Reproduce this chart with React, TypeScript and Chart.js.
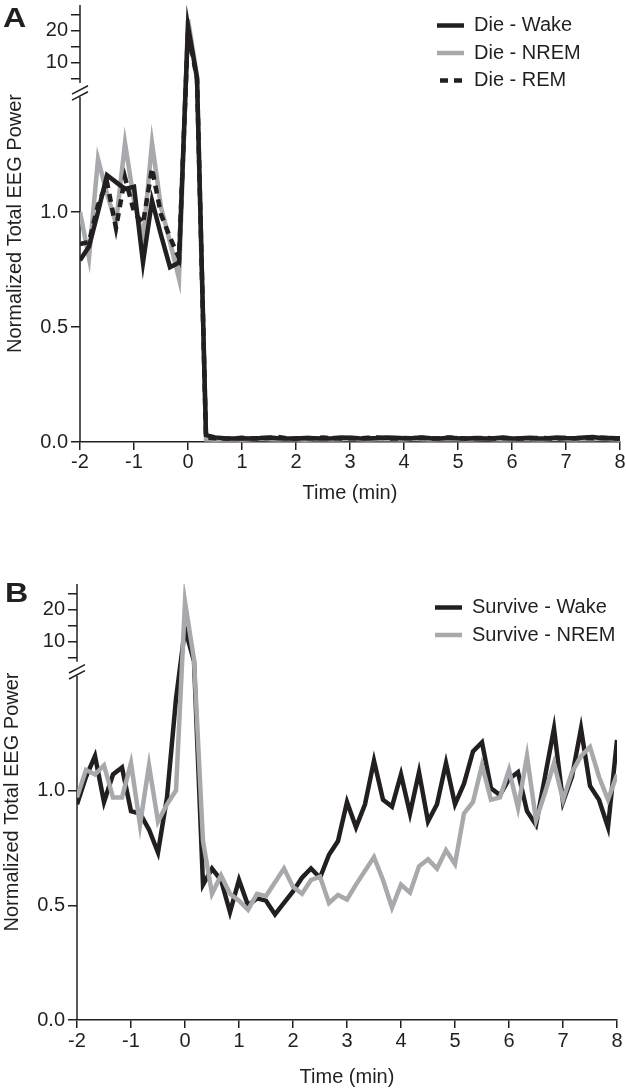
import React, { useEffect, useRef } from 'react';
import { Chart, LinearScale, registerables } from 'chart.js';

// ---------- data ----------
const TIME_SEC = [
  -120, -110, -100, -90, -80, -70, -60, -50, -40, -30, -20, -10,
  0, 10, 20, 30, 40, 50, 60, 70, 80, 90, 100, 110, 120, 130, 140, 150, 160, 170,
  180, 190, 200, 210, 220, 230, 240, 250, 260, 270, 280, 290, 300, 310, 320, 330,
  340, 350, 360, 370, 380, 390, 400, 410, 420, 430, 440, 450, 460, 470, 480,
];

const X_TICK_SEC = [-120, -60, 0, 60, 120, 180, 240, 300, 360, 420, 480];
const X_TICK_LABELS = ['-2', '-1', '0', '1', '2', '3', '4', '5', '6', '7', '8'];

const Y_TICK_VALUES = [0, 0.5, 1, 5, 10, 15, 20, 25];
const Y_TICK_LABELS = ['0.0', '0.5', '1.0', '', '10', '', '20', ''];

const DIE_WAKE = [
  0.79, 0.85, 1.0, 1.16, 1.13, 1.1, 1.11, 0.78, 1.05, 0.9, 0.76, 0.78, 21.5, 5.3,
  0.03, 0.02, 0.016, 0.015, 0.016, 0.015, 0.017, 0.02, 0.016, 0.015,
  0.015, 0.017, 0.016, 0.015, 0.016, 0.02, 0.018, 0.016, 0.015, 0.017,
  0.02, 0.018, 0.016, 0.017, 0.02, 0.016, 0.015, 0.018, 0.016, 0.015,
  0.017, 0.015, 0.016, 0.02, 0.015, 0.016, 0.018, 0.015, 0.016, 0.02,
  0.017, 0.016, 0.02, 0.022, 0.016, 0.017, 0.015,
];
const DIE_NREM = [
  1.0, 0.8, 1.23, 1.08, 0.95, 1.3, 1.05, 0.88, 1.3, 1.02, 0.87, 0.71, 23.5, 6.0,
  0.012, 0.01, 0.011, 0.012, 0.01, 0.012, 0.014, 0.012, 0.011, 0.013,
  0.012, 0.01, 0.012, 0.013, 0.011, 0.012, 0.014, 0.012, 0.011, 0.012,
  0.013, 0.012, 0.011, 0.014, 0.012, 0.011, 0.012, 0.013, 0.012, 0.011,
  0.012, 0.014, 0.012, 0.011, 0.012, 0.013, 0.012, 0.011, 0.012, 0.014,
  0.012, 0.011, 0.013, 0.012, 0.014, 0.012, 0.011,
];
const DIE_REM = [
  0.86, 0.87, 1.03, 1.13, 0.93, 1.15, 1.0, 0.95, 1.19, 0.99, 0.89, 0.8, 20.0, 5.0,
  0.02, 0.016, 0.015, 0.016, 0.018, 0.016, 0.015, 0.017, 0.022, 0.016,
  0.015, 0.018, 0.016, 0.02, 0.016, 0.015, 0.017, 0.016, 0.018, 0.02,
  0.016, 0.015, 0.017, 0.016, 0.018, 0.015, 0.016, 0.02, 0.016, 0.015,
  0.016, 0.018, 0.015, 0.017, 0.016, 0.015, 0.016, 0.018, 0.016, 0.015,
  0.017, 0.016, 0.018, 0.016, 0.02, 0.016, 0.015,
];

const SURVIVE_WAKE = [
  0.94, 1.06, 1.15, 0.95, 1.07, 1.1, 0.91, 0.9, 0.83, 0.73,
  0.97, 1.4, 14.0, 4.0, 0.59, 0.66, 0.61, 0.47, 0.61, 0.5,
  0.53, 0.52, 0.46, 0.51, 0.56, 0.62, 0.66, 0.62, 0.72, 0.78,
  0.95, 0.84, 0.94, 1.13, 0.96, 0.93, 1.07, 0.9, 1.08, 0.865,
  0.94, 1.12, 0.94, 1.03, 1.17, 1.21, 1.01, 0.98, 1.05, 1.08,
  0.91, 0.85, 1.06, 1.27, 0.95, 1.06, 1.27, 1.02, 0.96, 0.84,
  1.22,
];
const SURVIVE_NREM = [
  0.97, 1.09, 1.07, 1.11, 0.97, 0.97, 1.12, 0.85, 1.11, 0.865,
  0.94, 1.0, 22.5, 4.5, 0.78, 0.55, 0.63, 0.55, 0.52, 0.48,
  0.55, 0.54, 0.6, 0.66, 0.58, 0.55, 0.61, 0.625, 0.51, 0.545,
  0.525, 0.59, 0.65, 0.71, 0.61, 0.49, 0.59, 0.555, 0.67, 0.7,
  0.66, 0.74, 0.68, 0.9, 0.95, 1.11, 0.96, 0.97, 1.09, 0.925,
  1.15, 0.87, 0.99, 1.12, 0.96, 1.08, 1.15, 1.19, 1.06, 0.96,
  1.07,
];

// broken y axis: value breakpoints and their share of the axis height
const BREAK_VALUES = [0, 1.5, 3.75, 28];
const BREAK_FRACS = [0, 0.7895, 0.8215, 1];

// ---------- styles ----------
const INK = '#231f20';
const GREY = '#a7a9ac';
const FONT = "'Liberation Sans', Arial, Helvetica, sans-serif";

function valueToDecimal(v: number) {
  let i = 0;
  while (i < BREAK_VALUES.length - 2 && v > BREAK_VALUES[i + 1]) i++;
  const v0 = BREAK_VALUES[i], v1 = BREAK_VALUES[i + 1];
  const f0 = BREAK_FRACS[i], f1 = BREAK_FRACS[i + 1];
  return f0 + ((v - v0) / (v1 - v0)) * (f1 - f0);
}
function decimalToValue(d: number) {
  let i = 0;
  while (i < BREAK_FRACS.length - 2 && d > BREAK_FRACS[i + 1]) i++;
  const v0 = BREAK_VALUES[i], v1 = BREAK_VALUES[i + 1];
  const f0 = BREAK_FRACS[i], f1 = BREAK_FRACS[i + 1];
  return v0 + ((d - f0) / (f1 - f0)) * (v1 - v0);
}

class BrokenLinearScale extends (LinearScale as any) {
  static id = 'brokenLinear';
  getPixelForValue(value: number) {
    if (value === null || value === undefined || Number.isNaN(value)) return NaN;
    return (this as any).getPixelForDecimal(valueToDecimal(value));
  }
  getValueForPixel(pixel: number) {
    return decimalToValue((this as any).getDecimalForPixel(pixel));
  }
}

Chart.register(...registerables, BrokenLinearScale as any);

const brokenAxisPlugin = {
  id: 'brokenAxis',
  beforeDatasetsDraw(chart: any) {
    const ys = chart.scales.y;
    const { ctx, chartArea } = chart;
    const x = chartArea.left;
    const yLow = ys.getPixelForValue(BREAK_VALUES[1]);
    const yHigh = ys.getPixelForValue(BREAK_VALUES[2]);
    ctx.save();
    ctx.strokeStyle = INK;
    ctx.lineWidth = 1.5;
    ctx.lineCap = 'butt';
    ctx.beginPath();
    ctx.moveTo(x, chartArea.bottom);
    ctx.lineTo(x, yLow);
    ctx.moveTo(x, yHigh);
    ctx.lineTo(x, chartArea.top);
    for (const yc of [yLow - 7, yLow - 1]) {
      ctx.moveTo(x - 8, yc + 4.2);
      ctx.lineTo(x + 8, yc - 4.2);
    }
    ctx.stroke();
    ctx.restore();
  },
};

function legendMover(left: number, top: number) {
  return {
    id: 'legendMover',
    afterLayout(chart: any) {
      const lg = chart.legend;
      if (!lg) return;
      const w = lg.width + 30;
      const h = 200;
      lg.left = left;
      lg.top = top;
      lg.right = left + w;
      lg.bottom = top + h;
    },
  };
}

type SeriesDef = {
  label: string;
  values: number[];
  color: string;
  dash?: number[];
  order: number;
};

type PanelDef = {
  series: SeriesDef[];
  padding: { left: number; right: number; top: number; bottom: number };
  xScaleHeight: number;
  xLabelPad: number;
  xTitlePadBottom: number;
  legendLeft: number;
  legendTop: number;
};

function makeConfig(p: PanelDef): any {
  const font = { family: FONT, size: 20 };
  return {
    type: 'line',
    data: {
      datasets: p.series.map((s) => ({
        label: s.label,
        data: TIME_SEC.map((t, i) => ({ x: t, y: s.values[i] })),
        borderColor: s.color,
        backgroundColor: s.color,
        borderWidth: 4.5,
        borderDash: s.dash || [],
        borderCapStyle: 'butt',
        borderJoinStyle: 'miter',
        pointRadius: 0,
        tension: 0,
        fill: false,
        order: s.order,
      })),
    },
    options: {
      responsive: false,
      animation: false,
      events: [],
      layout: { padding: p.padding },
      plugins: {
        tooltip: { enabled: false },
        title: { display: false },
        legend: {
          display: true,
          position: 'chartArea',
          align: 'start',
          labels: {
            usePointStyle: true,
            pointStyleWidth: 27,
            padding: 7.5,
            color: INK,
            font,
            generateLabels: (chart: any) =>
              chart.data.datasets.map((ds: any, i: number) => ({
                text: ds.label,
                strokeStyle: ds.borderColor,
                fillStyle: ds.borderColor,
                fontColor: INK,
                lineWidth: ds.borderWidth,
                lineDash: ds.borderDash,
                lineDashOffset: ds.borderDash && ds.borderDash.length ? 11 : 0,
                lineCap: 'butt',
                pointStyle: 'line',
                hidden: false,
                datasetIndex: i,
              })),
          },
        },
      },
      scales: {
        x: {
          type: 'linear',
          min: TIME_SEC[0],
          max: TIME_SEC[TIME_SEC.length - 1],
          afterBuildTicks: (s: any) => {
            s.ticks = X_TICK_SEC.map((v) => ({ value: v }));
          },
          afterFit: (s: any) => {
            s.height = p.xScaleHeight;
          },
          ticks: {
            autoSkip: false,
            maxRotation: 0,
            padding: p.xLabelPad,
            color: INK,
            font,
            callback: (v: number) => {
              const i = X_TICK_SEC.indexOf(v);
              return i >= 0 ? X_TICK_LABELS[i] : '';
            },
          },
          grid: { drawOnChartArea: false, drawTicks: true, tickLength: 8, color: INK, lineWidth: 1.5 },
          border: { display: true, color: INK, width: 1.5 },
          title: {
            display: true,
            text: 'Time (min)',
            color: INK,
            font,
            padding: { top: 0, bottom: p.xTitlePadBottom },
          },
        },
        y: {
          type: 'brokenLinear',
          min: BREAK_VALUES[0],
          max: BREAK_VALUES[BREAK_VALUES.length - 1],
          afterBuildTicks: (s: any) => {
            s.ticks = Y_TICK_VALUES.map((v) => ({ value: v }));
          },
          afterFit: (s: any) => {
            s.width = 77;
            s.paddingTop = 0;
            s.paddingBottom = 0;
          },
          ticks: {
            autoSkip: false,
            padding: 3,
            color: INK,
            font,
            callback: (v: number) => {
              const i = Y_TICK_VALUES.indexOf(v);
              return i >= 0 ? Y_TICK_LABELS[i] : '';
            },
          },
          grid: { drawOnChartArea: false, drawTicks: true, tickLength: 9, color: INK, lineWidth: 1.5 },
          border: { display: false },
          title: {
            display: true,
            text: 'Normalized Total EEG Power',
            color: INK,
            font,
            padding: { top: 0, bottom: 0 },
          },
        },
      },
    },
    plugins: [brokenAxisPlugin, legendMover(p.legendLeft, p.legendTop)],
  };
}

const PANEL_A: PanelDef = {
  series: [
    { label: 'Die - Wake', values: DIE_WAKE, color: INK, order: 0 },
    { label: 'Die - NREM', values: DIE_NREM, color: GREY, order: 2 },
    { label: 'Die - REM', values: DIE_REM, color: INK, dash: [8, 6], order: 1 },
  ],
  padding: { left: 3, right: 6, top: 5, bottom: 0 },
  xScaleHeight: 103,
  xLabelPad: 0,
  xTitlePadBottom: 40,
  legendLeft: 429.5,
  legendTop: 8,
};

const PANEL_B: PanelDef = {
  series: [
    { label: 'Survive - Wake', values: SURVIVE_WAKE, color: INK, order: 1 },
    { label: 'Survive - NREM', values: SURVIVE_NREM, color: GREY, order: 0 },
  ],
  padding: { left: 0, right: 9, top: 39, bottom: 0 },
  xScaleHeight: 71,
  xLabelPad: 1,
  xTitlePadBottom: 2,
  legendLeft: 427.5,
  legendTop: 45,
};

export default function App() {
  const refA = useRef<HTMLCanvasElement>(null);
  const refB = useRef<HTMLCanvasElement>(null);

  useEffect(() => {
    const a = new Chart(refA.current as HTMLCanvasElement, makeConfig(PANEL_A));
    const b = new Chart(refB.current as HTMLCanvasElement, makeConfig(PANEL_B));
    return () => {
      a.destroy();
      b.destroy();
    };
  }, []);

  const letter: React.CSSProperties = {
    position: 'absolute',
    fontFamily: FONT,
    fontWeight: 'bold',
    fontSize: 28,
    lineHeight: '28px',
    color: INK,
    transform: 'scaleX(1.15)',
    transformOrigin: 'left top',
  };

  return (
    <div style={{ position: 'absolute', left: 0, top: 0, width: 626, height: 1091, background: '#fff', overflow: 'hidden' }}>
      <canvas ref={refA} width={626} height={545} style={{ position: 'absolute', left: 0, top: 0, width: 626, height: 545 }} />
      <canvas ref={refB} width={626} height={546} style={{ position: 'absolute', left: 0, top: 545, width: 626, height: 546 }} />
      <div style={{ ...letter, left: 3, top: 4 }}>A</div>
      <div style={{ ...letter, left: 5, top: 579 }}>B</div>
    </div>
  );
}
